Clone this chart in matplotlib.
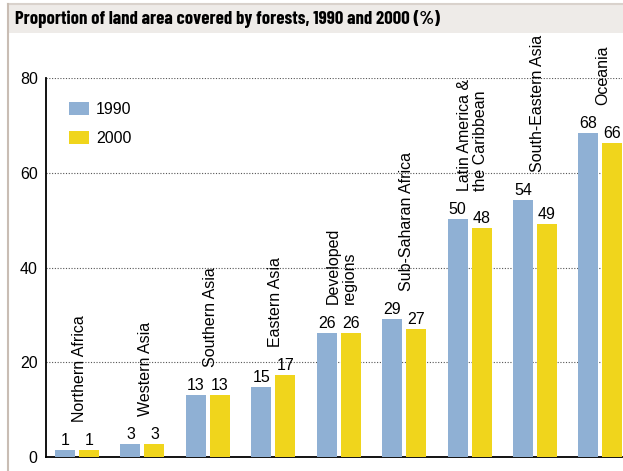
import numpy as np
import matplotlib
matplotlib.use("Agg")
import matplotlib.pyplot as plt
from matplotlib.patches import Rectangle

plt.rcParams['font.family'] = ['Liberation Sans', 'DejaVu Sans']

regions = ["Northern Africa", "Western Asia", "Southern Asia", "Eastern Asia",
           "Developed\nregions", "Sub-Saharan Africa", "Latin America &\nthe Caribbean",
           "South-Eastern Asia", "Oceania"]
v1990 = [1.4, 2.7, 13.1, 14.8, 26.2, 29.1, 50.2, 54.2, 68.4]
v2000 = [1.4, 2.7, 13.1, 17.3, 26.1, 27.0, 48.3, 49.2, 66.2]
yticks = [0, 20, 40, 60, 80]

blue = "#8fb0d4"
yellow = "#f0d51c"

fig = plt.figure(figsize=(6.23, 4.71), dpi=100)

# title band and frame
fig.patches.append(Rectangle((8/623, 1 - 33/471), 1, 29/471, transform=fig.transFigure,
                             facecolor="#eeebe8", edgecolor="none", zorder=0))
fig.add_artist(plt.Line2D([8/623, 1], [1 - 4/471, 1 - 4/471], color="#d9d2cc", lw=1.5))
fig.add_artist(plt.Line2D([8/623, 8/623], [0, 1 - 4/471], color="#c9bdb4", lw=1.5))
fig.text(15/623, 1 - 19/471, "Proportion of land area covered by forests, 1990 and 2000 (%)",
         fontsize=13.5, fontweight="bold", va="center", ha="left",
         family=['Barlow Condensed', 'Liberation Sans', 'DejaVu Sans'])

ax = fig.add_axes([46/623, 1 - 457/471, 576/623, 379/471])
x = np.arange(len(regions))
w = 0.306
off = 0.184
b1 = ax.bar(x - off, v1990, w, color=blue, label="1990", zorder=3)
b2 = ax.bar(x + off, v2000, w, color=yellow, label="2000", zorder=3)

for xi, a, b, name in zip(x, v1990, v2000, regions):
    ax.text(xi - off, a + 0.5, str(round(a)), ha="center", va="bottom", fontsize=11.5)
    ax.text(xi + off, b + 0.5, str(round(b)), ha="center", va="bottom", fontsize=11.5)
    ax.text(xi + 0.04, max(a, b) + 6.0, name, rotation=90, ha="center", va="bottom",
            fontsize=11.5, multialignment="left", linespacing=1.1, clip_on=False)

ax.set_xlim(-0.474, 8.33)
ax.set_ylim(0, 80)
ax.set_yticks(yticks)
ax.set_xticks([])
ax.tick_params(axis="y", length=0, labelsize=11.5, pad=6)
ax.grid(axis="y", linestyle=(0, (1, 1.5)), color="#555555", lw=0.8, zorder=0)
for s in ["top", "right"]:
    ax.spines[s].set_visible(False)
ax.spines["left"].set_linewidth(1.3)
ax.spines["bottom"].set_linewidth(1.3)

leg = ax.legend(loc="upper left", bbox_to_anchor=(0.015, 0.975), frameon=False,
                fontsize=11.5, handlelength=1.25, handleheight=0.88, labelspacing=0.9,
                handletextpad=0.45)

fig.savefig("out.png", dpi=100)
